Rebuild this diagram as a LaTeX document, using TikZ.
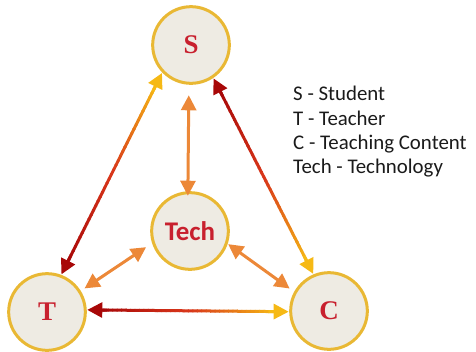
\documentclass[tikz,border=0pt]{standalone}
\usepackage{fontspec}
\setmainfont{Carlito}
\newfontfamily\letterfont{Liberation Serif}
\usepackage{xcolor}
\usepackage{tikz}
\usetikzlibrary{arrows.meta,calc}

\definecolor{ringgold}{HTML}{E9B834}
\definecolor{discfill}{HTML}{EEEBE3}
\definecolor{lettered}{HTML}{C8202E}
\definecolor{tipred}{HTML}{A80808}
\definecolor{tipmid}{HTML}{D8361A}
\definecolor{tipyellow}{HTML}{F6B915}
\definecolor{linkorange}{HTML}{EC8838}
\definecolor{keygray}{HTML}{1A1A1A}

\begin{document}
\begin{tikzpicture}[
                x=0.03cm, y=0.03cm,
                role/.style={circle, draw=ringgold, line width=0.09cm, fill=discfill, minimum size=2.3cm, inner sep=0pt, outer sep=0.06cm, text=lettered, font=\letterfont\bfseries\fontsize{23}{23}\selectfont},
                hub/.style={role, font=\bfseries\fontsize{23}{23}\selectfont},
                head/.style={line width=0.09cm, -{Triangle[length=0.45cm, width=0.45cm]}},
                link/.style={line width=0.09cm, color=linkorange, {Triangle[length=0.45cm, width=0.45cm]}-{Triangle[length=0.45cm, width=0.45cm]}},
                key/.style={align=left, anchor=north west, inner sep=0pt, font=\fontsize{17.8}{20.8}\selectfont, text=keygray}
            ]
                \useasboundingbox (0,0) rectangle (476,351);

                % the three corners and the hub
                \node[role] (S) at (191,306) {S};
                \node[role] (T) at (47,39) {T};
                \node[role] (C) at (329,40) {C};
                \node[hub] (Tech) at (190,120) {Tech};

                % outer triangle: each shaft fades from one end colour through red to the other
                \foreach \from/\to/\ca/\cb in {S.224/T.69/tipyellow/tipred, S.304/C.113/tipred/tipyellow, T.3/C.181/tipred/tipyellow}{
                    \coordinate (p) at ($(\from)!0.35cm!(\to)$);
                    \coordinate (q) at ($(\to)!0.35cm!(\from)$);
                    \foreach \k in {0,...,39}{
                        \pgfmathsetmacro\ta{\k/40}
                        \pgfmathsetmacro\tb{(\k+1.2)/40}
                        \ifnum\k<20
                            \pgfmathtruncatemacro\mix{100*\k/19}
                            \colorlet{segcol}{tipmid!\mix!\ca}
                        \else
                            \pgfmathtruncatemacro\mix{100*(\k-20)/19}
                            \colorlet{segcol}{\cb!\mix!tipmid}
                        \fi
                        \draw[line width=0.09cm, color=segcol] ($(p)!\ta!(q)$) -- ($(p)!\tb!(q)$);
                    }
                    \draw[head, color=\ca] ($(\from)!0.6cm!(\to)$) -- (\from);
                    \draw[head, color=\cb] ($(\to)!0.6cm!(\from)$) -- (\to);
                }

                % hub links
                \draw[link, shorten <=0.3cm, shorten >=-0.15cm] (S.267) -- (Tech.93);
                \draw[link, shorten <=0.2cm, shorten >=0.12cm] (Tech.198) -- (T.32);
                \draw[link, shorten >=0.15cm] (Tech.341) -- (C.151);

                % key
                \node[key] (legend) at (293,265) {S - Student\\T - Teacher\\C - Teaching Content\\Tech - Technology};

            \end{tikzpicture}
\end{document}
